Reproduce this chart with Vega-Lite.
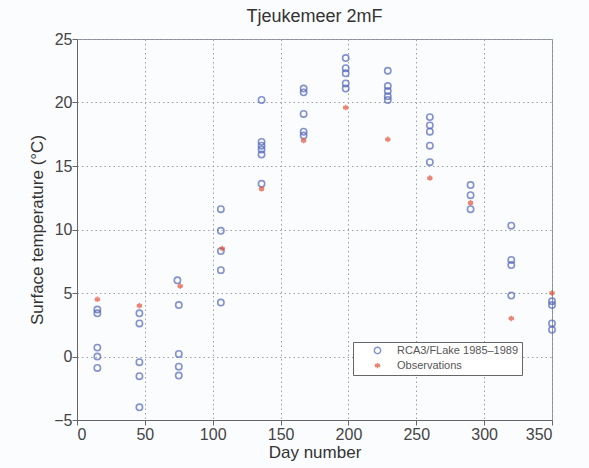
{
  "$schema": "https://vega.github.io/schema/vega-lite/v6.json",
  "autosize": "none",
  "padding": {"left": 77, "top": 39, "right": 37, "bottom": 48},
  "width": 475,
  "height": 381,
  "background": "#fbfcfe",
  "title": {"text": "Tjeukemeer 2mF", "fontSize": 18, "font": "Liberation Sans", "fontWeight": "normal", "color": "#333", "offset": 5},
  "config": {
    "view": {"stroke": "#8a8f9a", "strokeWidth": 1},
    "axis": {
      "labelFont": "Liberation Sans", "titleFont": "Liberation Sans",
      "labelFontSize": 16, "titleFontSize": 17, "titleFontWeight": "normal",
      "labelColor": "#444", "titleColor": "#333",
      "domainColor": "#666", "tickColor": "#666",
      "gridColor": "#9aa0aa", "gridDash": [1.5, 3], "gridWidth": 1
    }
  },
  "data": {"values": [
    {"day": 15, "temp": 3.7, "series": "RCA3/FLake 1985–1989"},
    {"day": 15, "temp": 3.4, "series": "RCA3/FLake 1985–1989"},
    {"day": 15, "temp": 0.7, "series": "RCA3/FLake 1985–1989"},
    {"day": 15, "temp": 0.0, "series": "RCA3/FLake 1985–1989"},
    {"day": 15, "temp": -0.9, "series": "RCA3/FLake 1985–1989"},
    {"day": 46, "temp": 3.4, "series": "RCA3/FLake 1985–1989"},
    {"day": 46, "temp": 2.6, "series": "RCA3/FLake 1985–1989"},
    {"day": 46, "temp": -0.45, "series": "RCA3/FLake 1985–1989"},
    {"day": 46, "temp": -1.55, "series": "RCA3/FLake 1985–1989"},
    {"day": 46, "temp": -4.0, "series": "RCA3/FLake 1985–1989"},
    {"day": 74, "temp": 6.0, "series": "RCA3/FLake 1985–1989"},
    {"day": 75, "temp": 4.05, "series": "RCA3/FLake 1985–1989"},
    {"day": 75, "temp": 0.2, "series": "RCA3/FLake 1985–1989"},
    {"day": 75, "temp": -0.8, "series": "RCA3/FLake 1985–1989"},
    {"day": 75, "temp": -1.5, "series": "RCA3/FLake 1985–1989"},
    {"day": 106, "temp": 11.6, "series": "RCA3/FLake 1985–1989"},
    {"day": 106, "temp": 9.9, "series": "RCA3/FLake 1985–1989"},
    {"day": 106, "temp": 8.3, "series": "RCA3/FLake 1985–1989"},
    {"day": 106, "temp": 6.8, "series": "RCA3/FLake 1985–1989"},
    {"day": 106, "temp": 4.25, "series": "RCA3/FLake 1985–1989"},
    {"day": 136, "temp": 20.2, "series": "RCA3/FLake 1985–1989"},
    {"day": 136, "temp": 16.9, "series": "RCA3/FLake 1985–1989"},
    {"day": 136, "temp": 16.6, "series": "RCA3/FLake 1985–1989"},
    {"day": 136, "temp": 16.3, "series": "RCA3/FLake 1985–1989"},
    {"day": 136, "temp": 15.9, "series": "RCA3/FLake 1985–1989"},
    {"day": 136, "temp": 13.6, "series": "RCA3/FLake 1985–1989"},
    {"day": 167, "temp": 21.1, "series": "RCA3/FLake 1985–1989"},
    {"day": 167, "temp": 20.8, "series": "RCA3/FLake 1985–1989"},
    {"day": 167, "temp": 19.1, "series": "RCA3/FLake 1985–1989"},
    {"day": 167, "temp": 17.7, "series": "RCA3/FLake 1985–1989"},
    {"day": 167, "temp": 17.4, "series": "RCA3/FLake 1985–1989"},
    {"day": 198, "temp": 23.5, "series": "RCA3/FLake 1985–1989"},
    {"day": 198, "temp": 22.7, "series": "RCA3/FLake 1985–1989"},
    {"day": 198, "temp": 22.3, "series": "RCA3/FLake 1985–1989"},
    {"day": 198, "temp": 21.5, "series": "RCA3/FLake 1985–1989"},
    {"day": 198, "temp": 21.1, "series": "RCA3/FLake 1985–1989"},
    {"day": 229, "temp": 22.5, "series": "RCA3/FLake 1985–1989"},
    {"day": 229, "temp": 21.3, "series": "RCA3/FLake 1985–1989"},
    {"day": 229, "temp": 20.9, "series": "RCA3/FLake 1985–1989"},
    {"day": 229, "temp": 20.5, "series": "RCA3/FLake 1985–1989"},
    {"day": 229, "temp": 20.2, "series": "RCA3/FLake 1985–1989"},
    {"day": 260, "temp": 18.85, "series": "RCA3/FLake 1985–1989"},
    {"day": 260, "temp": 18.2, "series": "RCA3/FLake 1985–1989"},
    {"day": 260, "temp": 17.7, "series": "RCA3/FLake 1985–1989"},
    {"day": 260, "temp": 16.6, "series": "RCA3/FLake 1985–1989"},
    {"day": 260, "temp": 15.3, "series": "RCA3/FLake 1985–1989"},
    {"day": 290, "temp": 13.5, "series": "RCA3/FLake 1985–1989"},
    {"day": 290, "temp": 12.7, "series": "RCA3/FLake 1985–1989"},
    {"day": 290, "temp": 11.6, "series": "RCA3/FLake 1985–1989"},
    {"day": 320, "temp": 10.3, "series": "RCA3/FLake 1985–1989"},
    {"day": 320, "temp": 7.6, "series": "RCA3/FLake 1985–1989"},
    {"day": 320, "temp": 7.2, "series": "RCA3/FLake 1985–1989"},
    {"day": 320, "temp": 4.8, "series": "RCA3/FLake 1985–1989"},
    {"day": 350, "temp": 4.35, "series": "RCA3/FLake 1985–1989"},
    {"day": 350, "temp": 4.05, "series": "RCA3/FLake 1985–1989"},
    {"day": 350, "temp": 2.6, "series": "RCA3/FLake 1985–1989"},
    {"day": 350, "temp": 2.1, "series": "RCA3/FLake 1985–1989"},
    {"day": 15, "temp": 4.5, "series": "Observations"},
    {"day": 46, "temp": 4.0, "series": "Observations"},
    {"day": 76, "temp": 5.55, "series": "Observations"},
    {"day": 107, "temp": 8.5, "series": "Observations"},
    {"day": 136, "temp": 13.2, "series": "Observations"},
    {"day": 167, "temp": 17.0, "series": "Observations"},
    {"day": 198, "temp": 19.6, "series": "Observations"},
    {"day": 229, "temp": 17.1, "series": "Observations"},
    {"day": 260, "temp": 14.05, "series": "Observations"},
    {"day": 290, "temp": 12.1, "series": "Observations"},
    {"day": 320, "temp": 3.0, "series": "Observations"},
    {"day": 350, "temp": 5.0, "series": "Observations"}
  ]},
  "mark": {"type": "point", "filled": false, "strokeWidth": 1.6},
  "encoding": {
    "x": {"field": "day", "type": "quantitative", "scale": {"domain": [0, 350], "nice": false},
          "axis": {"title": "Day number", "values": [0, 50, 100, 150, 200, 250, 300, 350], "tickSize": 5, "labelPadding": 1, "titlePadding": 2}},
    "y": {"field": "temp", "type": "quantitative", "scale": {"domain": [-5, 25], "nice": false},
          "axis": {"title": "Surface temperature (°C)", "values": [-5, 0, 5, 10, 15, 20, 25], "tickSize": 5, "labelPadding": 0, "titlePadding": 7}},
    "color": {"field": "series", "type": "nominal",
              "scale": {"domain": ["RCA3/FLake 1985–1989", "Observations"], "range": ["#5266b8", "#e0533a"]},
              "legend": {"title": null, "orient": "none", "legendX": 276, "legendY": 303,
                         "strokeColor": "#666", "fillColor": "#ffffff", "padding": 3,
                         "labelFont": "Liberation Sans", "labelFontSize": 11, "labelColor": "#555",
                         "symbolSize": 25, "symbolOffset": 16, "labelOffset": 14, "rowPadding": 2}},
    "shape": {"field": "series", "type": "nominal",
              "scale": {"domain": ["RCA3/FLake 1985–1989", "Observations"],
                        "range": ["circle", "M0,-1L0,1M-0.87,-0.5L0.87,0.5M-0.87,0.5L0.87,-0.5M-1,0L1,0"]}},
    "size": {"field": "series", "type": "nominal", "legend": null,
             "scale": {"domain": ["RCA3/FLake 1985–1989", "Observations"], "range": [40, 30]}},
    "order": {"field": "series", "sort": "descending"}
  }
}
